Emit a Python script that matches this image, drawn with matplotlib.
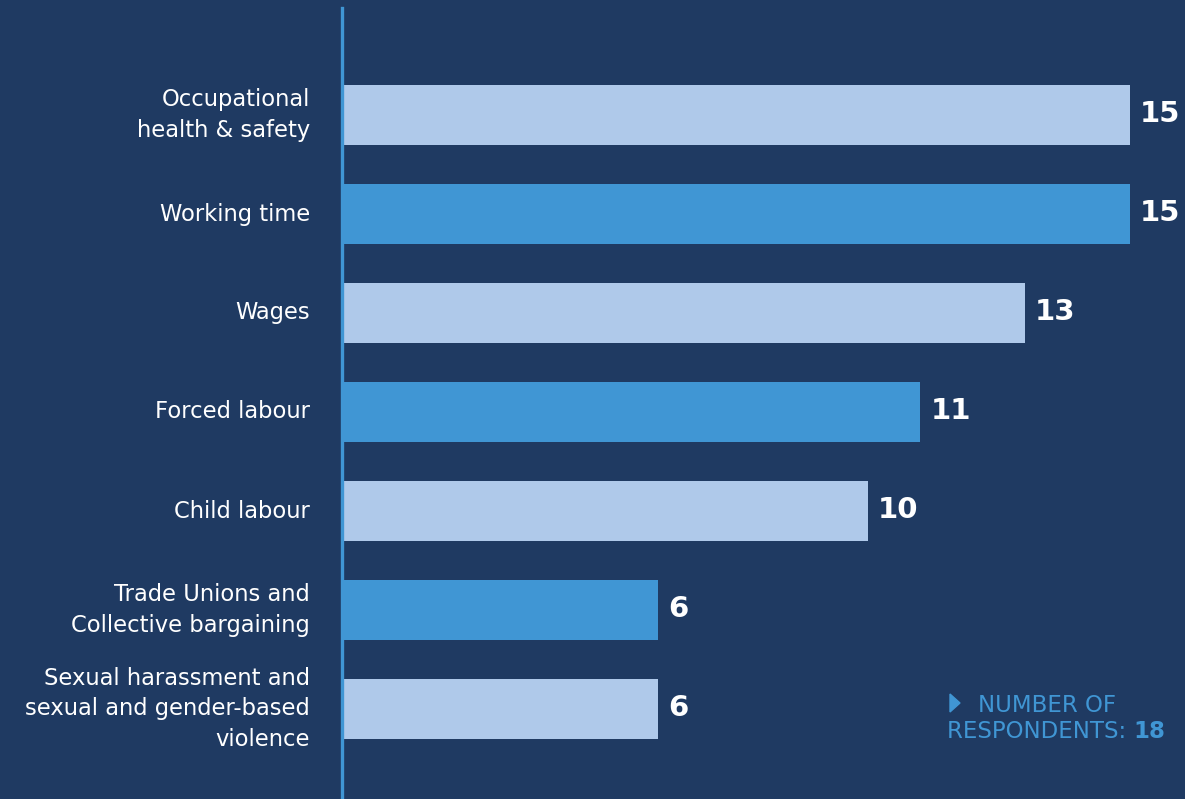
import matplotlib

matplotlib.use("Agg")
import matplotlib.pyplot as plt
from matplotlib.patches import Polygon

categories = [
    "Occupational\nhealth & safety",
    "Working time",
    "Wages",
    "Forced labour",
    "Child labour",
    "Trade Unions and\nCollective bargaining",
    "Sexual harassment and\nsexual and gender-based\nviolence",
]
counts = [15, 15, 13, 11, 10, 6, 6]
respondents = 18

BG = "#1f3a62"
LIGHT = "#afc9ea"
DARK = "#4096d4"
WHITE = "#ffffff"
FONT = "DejaVu Sans"

W, H = 1185, 799
fig = plt.figure(figsize=(W / 100, H / 100), dpi=100, facecolor=BG)


def fx(px):
    return px / W


def fy(py):
    return 1 - py / H


# axes spans from the bar baseline to the right edge, full height
left_px = 344
px_per_unit = 52.4
ax = fig.add_axes([fx(left_px), 0, 1 - fx(left_px), 1])
ax.set_facecolor(BG)
ax.set_xlim(0, (W - left_px) / px_per_unit)
ax.set_ylim(6 + 90 / 99, -115 / 99)
ax.axis("off")

colors = [LIGHT if i % 2 == 0 else DARK for i in range(len(counts))]
ypos = list(range(len(counts)))
ax.barh(ypos, counts, height=60 / 99, color=colors, left=0, zorder=2)

# vertical baseline just left of the bars
ax.axvline(-1.8 / px_per_unit, ymin=0, ymax=fy(8), color=DARK, lw=2.4,
           zorder=3, clip_on=False)

for y, v, label in zip(ypos, counts, categories):
    ax.annotate(str(v), (v, y), xytext=(10 / 1.389, 1), textcoords="offset points",
                ha="left", va="center", color=WHITE, fontsize=21,
                fontweight="bold", family=FONT)
    ax.annotate(label, (0, y), xytext=(-34 / 1.389, 0), textcoords="offset points",
                ha="right", va="center", color=WHITE, fontsize=16.3,
                family=FONT, linespacing=1.42, multialignment="right")

# respondent note
fig.patches.append(Polygon([(fx(950), fy(694)), (fx(950), fy(712)), (fx(960), fy(703))],
                           closed=True, color=DARK, transform=fig.transFigure,
                           figure=fig))
fig.text(fx(978), fy(705), "NUMBER OF", color=DARK, fontsize=16.5,
         family=FONT, ha="left", va="center")
t = fig.text(fx(947), fy(731), "RESPONDENTS: ", color=DARK, fontsize=16.5,
             family=FONT, ha="left", va="center")
fig.canvas.draw()
bb = t.get_window_extent()
fig.text(bb.x1 / W, fy(731), str(respondents), color=DARK, fontsize=16.5,
         fontweight="bold", family=FONT, ha="left", va="center")

fig.savefig("out.png", dpi=100, facecolor=BG)
